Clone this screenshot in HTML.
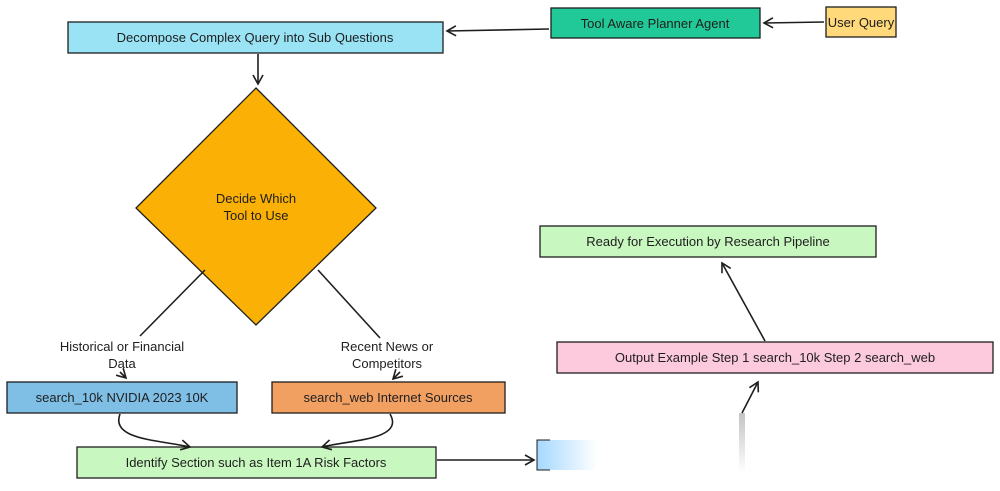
<!DOCTYPE html>
<html><head><meta charset="utf-8"><style>
body{margin:0;background:#fff}
svg text{font-family:"Liberation Sans",sans-serif;font-size:13px;fill:#1e1e1e}
</style></head><body>
<svg width="1000" height="486" viewBox="0 0 1000 486" xmlns="http://www.w3.org/2000/svg">
<defs>
<marker id="a" markerWidth="12" markerHeight="12" refX="10" refY="6" orient="auto" markerUnits="userSpaceOnUse">
<path d="M1,1 L10,6 L1,11" fill="none" stroke="#1e1e1e" stroke-width="1.6"/></marker>
<linearGradient id="g" x1="0" y1="0" x2="1" y2="0"><stop offset="0" stop-color="#a5d8ff"/><stop offset="1" stop-color="#a5d8ff" stop-opacity="0"/></linearGradient>
<linearGradient id="gv" x1="0" y1="0" x2="0" y2="1"><stop offset="0" stop-color="#888" stop-opacity=".5"/><stop offset="1" stop-color="#888" stop-opacity="0"/></linearGradient>
</defs>
<g stroke="#1e1e1e" stroke-width="1.3">
<rect x="826" y="7" width="70" height="30" fill="#ffd97a"/>
<rect x="551" y="8" width="209" height="30" fill="#20c997"/>
<rect x="68" y="22" width="375" height="31" fill="#99e3f5"/>
<polygon points="256,88 376,208 256,325 136,208" fill="#fab005"/>
<rect x="7" y="382" width="230" height="31" fill="#7fbfe6"/>
<rect x="272" y="382" width="233" height="31" fill="#f2a062"/>
<rect x="77" y="447" width="359" height="31" fill="#c9f7c0"/>
<rect x="557" y="342" width="436" height="31" fill="#fcc9dd"/>
<rect x="540" y="226" width="336" height="31" fill="#c9f7c0"/>
</g>
<rect x="537" y="440" width="60" height="30" fill="url(#g)"/>
<path d="M550 440 H537 V470 H550" fill="none" stroke="#1e1e1e" stroke-width="1"/>
<rect x="739" y="413" width="6" height="60" fill="url(#gv)"/>
<g stroke="#1e1e1e" stroke-width="1.6" fill="none">
<line x1="824" y1="22" x2="764" y2="23" marker-end="url(#a)"/>
<line x1="549" y1="29" x2="447" y2="31" marker-end="url(#a)"/>
<line x1="258" y1="54" x2="258" y2="84" marker-end="url(#a)"/>
<line x1="205" y1="270" x2="140" y2="336"/>
<line x1="318" y1="270" x2="380" y2="338"/>
<line x1="120" y1="372" x2="126" y2="378" marker-end="url(#a)"/>
<line x1="400" y1="372" x2="393" y2="379" marker-end="url(#a)"/>
<path d="M120 414 C110 440 160 440 190 447" marker-end="url(#a)"/>
<path d="M390 414 C405 440 350 440 322 447" marker-end="url(#a)"/>
<line x1="437" y1="460" x2="534" y2="460" marker-end="url(#a)"/>
<line x1="765" y1="341" x2="722" y2="263" marker-end="url(#a)"/>
<line x1="742" y1="413" x2="758" y2="382" marker-end="url(#a)"/>
</g>
<g text-anchor="middle">
<text x="861" y="27">User Query</text>
<text x="655" y="28">Tool Aware Planner Agent</text>
<text x="255" y="42">Decompose Complex Query into Sub Questions</text>
<text x="256" y="203">Decide Which</text>
<text x="256" y="220">Tool to Use</text>
<text x="122" y="351">Historical or Financial</text>
<text x="122" y="368">Data</text>
<text x="387" y="351">Recent News or</text>
<text x="387" y="368">Competitors</text>
<text x="122" y="402">search_10k NVIDIA 2023 10K</text>
<text x="388" y="402">search_web Internet Sources</text>
<text x="256" y="467">Identify Section such as Item 1A Risk Factors</text>
<text x="775" y="362">Output Example Step 1 search_10k Step 2 search_web</text>
<text x="708" y="246">Ready for Execution by Research Pipeline</text>
</g>
</svg>
</body></html>
